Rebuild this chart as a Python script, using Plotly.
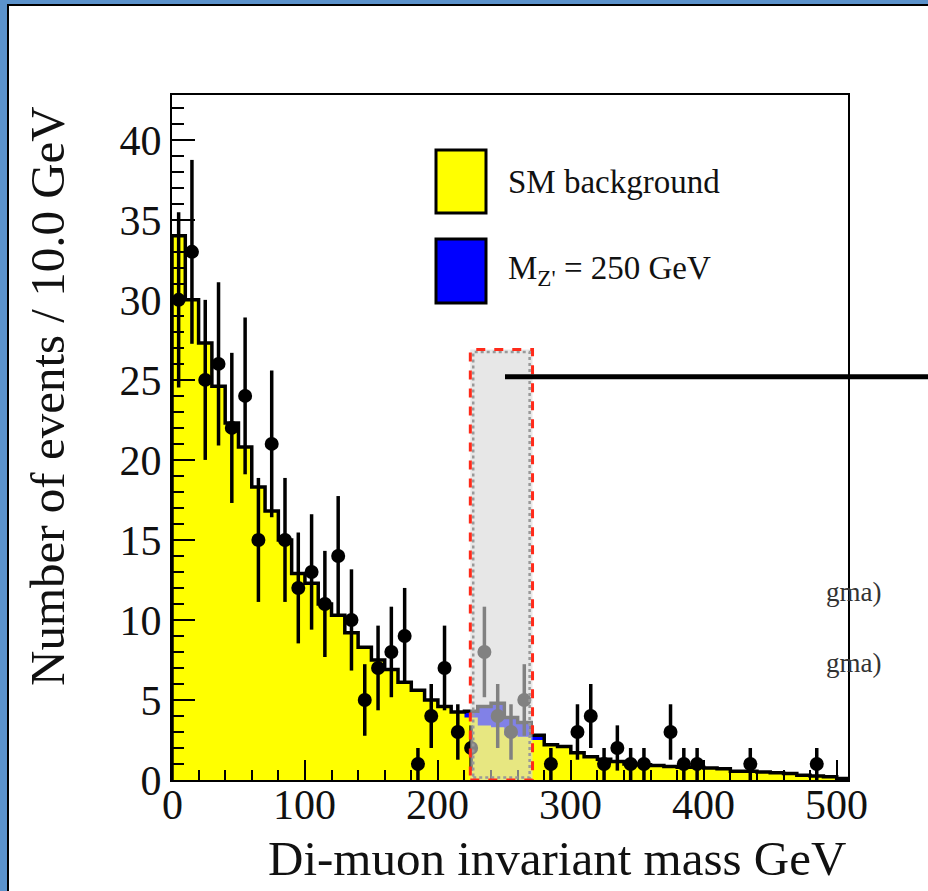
import numpy as np
import plotly.graph_objects as go

# ---------------- data ----------------
bin_width = 10.0
bin_low = list(np.arange(0, 510, 10))  # 51 bins, 0..510 GeV

sm_background = [34.0, 30.0, 27.3, 24.6, 22.3, 20.8, 18.3, 16.8, 15.0, 12.9,
                 12.3, 11.0, 10.3, 9.2, 8.3, 7.5, 6.9, 6.1, 5.6, 5.0,
                 4.6, 4.2, 3.9, 3.4, 3.3, 2.8, 2.7, 2.5, 2.2, 2.1,
                 1.7, 1.45, 1.3, 1.15, 1.0, 0.95, 0.9, 0.85, 0.8, 0.8,
                 0.75, 0.7, 0.55, 0.55, 0.5, 0.45, 0.4, 0.3, 0.25, 0.2,
                 0.1]
zprime_signal = [0.0] * 51
for i, v in zip([21, 22, 23, 24, 25, 26, 27], [0.05, 0.4, 1.2, 1.5, 1.1, 0.9, 0.3]):
    zprime_signal[i] = v

data_counts = [30, 33, 25, 26, 22, 24, 15, 21, 15, 12,
               13, 11, 14, 10, 5, 7, 8, 9, 1, 4,
               7, 3, 2, 8, 4, 3, 5, 0, 1, 0,
               3, 4, 1, 2, 1, 1, 0, 3, 1, 1,
               0, 0, 0, 1, 0, 0, 0, 0, 1, 0,
               0]

x_ticks = [0, 100, 200, 300, 400, 500]
y_ticks = [0, 5, 10, 15, 20, 25, 30, 35, 40]
x_range = [0, 508.5]
y_range = [0, 42.8]

# highlight window (GeV) and pointer line height
window = [224.4, 271.2]
window_top = 26.9
pointer_y = 25.2

# ---------------- figure geometry ----------------
W, H = 928, 891
L, R, T, B = 172, 848, 95, 780
pw, ph = R - L, B - T


def px2paper_x(px):
    return (px - L) / pw


def px2paper_y(py):
    return (B - py) / ph


edges = [b for b in bin_low] + [bin_low[-1] + bin_width]
total = [b + s for b, s in zip(sm_background, zprime_signal)]
centers = [b + bin_width / 2 for b in bin_low]

fig = go.Figure()

# stacked: blue (total) then yellow (background) on top
fig.add_trace(go.Scatter(x=edges, y=total + [total[-1]], mode="lines",
                         line=dict(shape="hv", width=0, color="#0000FF"),
                         fill="tozeroy", fillcolor="#0000FF", hoverinfo="skip"))
fig.add_trace(go.Scatter(x=edges, y=sm_background + [sm_background[-1]], mode="lines",
                         line=dict(shape="hv", width=0, color="#FFFF00"),
                         fill="tozeroy", fillcolor="#FFFF00", hoverinfo="skip"))
fig.add_trace(go.Scatter(x=[0] + edges, y=[0] + total + [total[-1]], mode="lines",
                         line=dict(shape="hv", width=3.5, color="black"),
                         hoverinfo="skip"))

# data points with Poisson errors
px_, py_, pe_ = [], [], []
for c, n in zip(centers, data_counts):
    if n > 0:
        px_.append(c)
        py_.append(n)
        pe_.append(float(np.sqrt(n)))
fig.add_trace(go.Scatter(x=px_, y=py_, mode="markers",
                         marker=dict(symbol="circle", size=14, color="black"),
                         error_y=dict(type="data", array=pe_, visible=True,
                                      thickness=3.5, width=0, color="black"),
                         hoverinfo="skip"))

shapes = []
# outer frame: blue page with white panel
shapes.append(dict(type="rect", xref="paper", yref="paper", layer="below",
                   x0=px2paper_x(8), x1=px2paper_x(960),
                   y0=px2paper_y(920), y1=px2paper_y(5),
                   fillcolor="white", line=dict(color="black", width=2)))

# highlight window overlay
shapes.append(dict(type="rect", xref="x", yref="y", layer="above",
                   x0=window[0], x1=window[1], y0=0, y1=window_top,
                   fillcolor="rgba(215,215,215,0.6)", line=dict(width=0)))
shapes.append(dict(type="rect", xref="x", yref="y", layer="above",
                   x0=window[0] + 2.2, x1=window[1] - 2.2, y0=0.15, y1=window_top - 0.15,
                   fillcolor="rgba(0,0,0,0)", line=dict(color="#999999", width=2.5, dash="dot")))
shapes.append(dict(type="rect", xref="x", yref="y", layer="above",
                   x0=window[0], x1=window[1], y0=0, y1=window_top,
                   fillcolor="rgba(0,0,0,0)", line=dict(color="#FF2A1A", width=3, dash="dash")))

# pointer line (runs off the right edge)
shapes.append(dict(type="line", xref="paper", yref="y",
                   x0=px2paper_x(505), x1=px2paper_x(940), y0=pointer_y, y1=pointer_y,
                   line=dict(color="black", width=5)))

# legend boxes
shapes.append(dict(type="rect", xref="paper", yref="paper",
                   x0=px2paper_x(436), x1=px2paper_x(486), y0=px2paper_y(213), y1=px2paper_y(150),
                   fillcolor="#FFFF00", line=dict(color="black", width=3)))
shapes.append(dict(type="rect", xref="paper", yref="paper",
                   x0=px2paper_x(436), x1=px2paper_x(486), y0=px2paper_y(303), y1=px2paper_y(239),
                   fillcolor="#0000FF", line=dict(color="black", width=3)))

font_serif = "Liberation Serif, Times New Roman, serif"
annotations = [
    dict(text="SM background", xref="paper", yref="paper", x=px2paper_x(506), y=px2paper_y(182),
         xanchor="left", yanchor="middle", showarrow=False,
         font=dict(family=font_serif, size=33, color="#111111")),
    dict(text="M<sub>Z'</sub> = 250 GeV", xref="paper", yref="paper", x=px2paper_x(506), y=px2paper_y(270),
         xanchor="left", yanchor="middle", showarrow=False,
         font=dict(family=font_serif, size=33, color="#111111")),
    dict(text="Di-muon invariant mass GeV", xref="paper", yref="paper",
         x=px2paper_x(848), y=px2paper_y(858), xanchor="right", yanchor="middle",
         showarrow=False, font=dict(family=font_serif, size=49, color="#111111")),
    dict(text="Number of events / 10.0 GeV", xref="paper", yref="paper", textangle=-90,
         x=px2paper_x(47), y=px2paper_y(104), xanchor="center", yanchor="top",
         showarrow=False, font=dict(family=font_serif, size=49, color="#111111")),
    dict(text="gma)", xref="paper", yref="paper", x=px2paper_x(824), y=px2paper_y(592),
         xanchor="left", yanchor="middle", showarrow=False,
         font=dict(family=font_serif, size=27, color="#333333")),
    dict(text="gma)", xref="paper", yref="paper", x=px2paper_x(824), y=px2paper_y(663),
         xanchor="left", yanchor="middle", showarrow=False,
         font=dict(family=font_serif, size=27, color="#333333")),
]
# x tick labels placed just under the axis (ROOT style)
for v in x_ticks:
    annotations.append(dict(text=str(v), xref="x", yref="paper", x=v, y=px2paper_y(805),
                            xanchor="center", yanchor="middle", showarrow=False,
                            font=dict(family=font_serif, size=42, color="#111111")))

fig.update_layout(
    width=W, height=H,
    margin=dict(l=L, r=W - R, t=T, b=H - B, pad=0),
    paper_bgcolor="#5B92CB",
    plot_bgcolor="rgba(0,0,0,0)",
    showlegend=False,
    shapes=shapes,
    annotations=annotations,
    font=dict(family=font_serif, color="#111111"),
)
fig.update_xaxes(range=x_range, tickvals=x_ticks, showticklabels=False,
                 ticks="inside", ticklen=20, tickwidth=2, tickcolor="black",
                 minor=dict(dtick=20, tick0=0, ticks="inside", ticklen=10, tickwidth=2, tickcolor="black"),
                 showline=True, linecolor="black", linewidth=2, mirror=True,
                 showgrid=False, zeroline=False, automargin=False)
fig.update_yaxes(range=y_range, tickvals=y_ticks, ticktext=[str(v) for v in y_ticks],
                 ticks="inside", ticklen=23, tickwidth=2, tickcolor="black",
                 minor=dict(dtick=1, tick0=0, ticks="inside", ticklen=12, tickwidth=2, tickcolor="black"),
                 showline=True, linecolor="black", linewidth=2, mirror=True,
                 showgrid=False, zeroline=False, automargin=False,
                 tickfont=dict(family=font_serif, size=42, color="#111111"))

fig.write_html("out.html")
